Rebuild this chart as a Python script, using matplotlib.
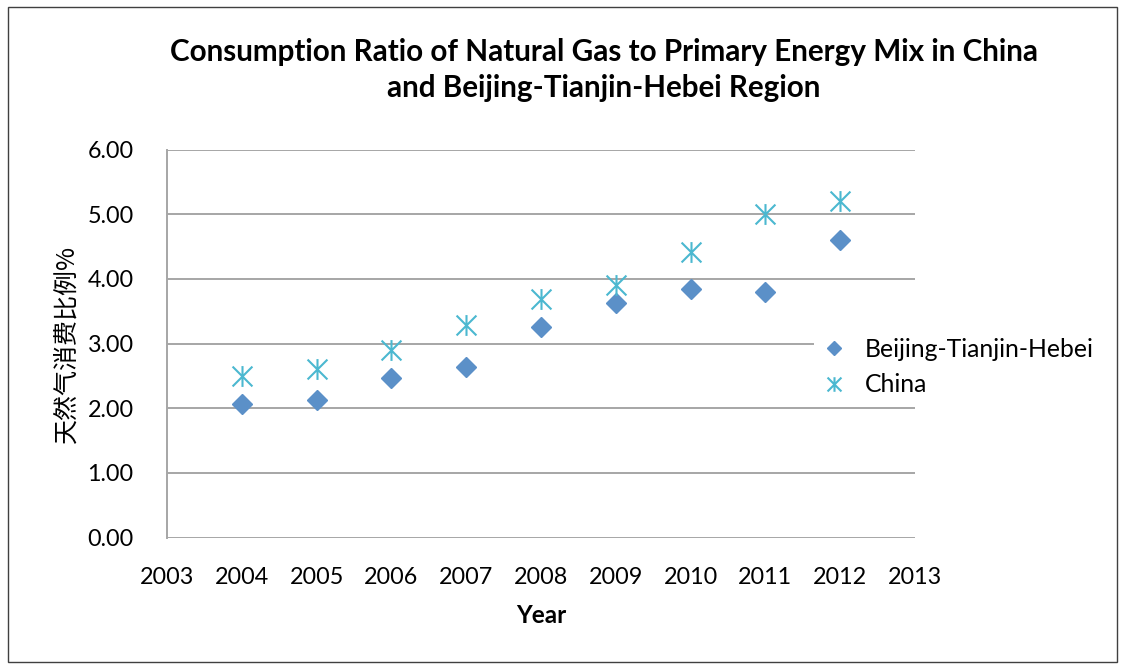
import matplotlib
matplotlib.use("Agg")
import matplotlib.pyplot as plt
from matplotlib.path import Path
from matplotlib.patches import Rectangle

years = [2004, 2005, 2006, 2007, 2008, 2009, 2010, 2011, 2012]
bth = [2.06, 2.13, 2.46, 2.63, 3.25, 3.62, 3.84, 3.79, 4.60]
china = [2.50, 2.61, 2.90, 3.29, 3.69, 3.90, 4.41, 5.00, 5.20]
x_ticks = list(range(2003, 2014))
y_ticks = [0, 1, 2, 3, 4, 5, 6]
title = "Consumption Ratio of Natural Gas to Primary Energy Mix in China\nand Beijing-Tianjin-Hebei Region"
series_names = ["Beijing-Tianjin-Hebei", "China"]

FONT = ["Lato", "DejaVu Sans"]
CJK = ["Noto Sans CJK SC", "DejaVu Sans"]
plt.rcParams['font.family'] = FONT

fig = plt.figure(figsize=(11.23, 6.65), dpi=100)
ax = fig.add_axes([167/1123, 1 - 537.5/665, (915-167)/1123, (537.5-149.5)/665])

# outer border
fig.patches.append(Rectangle((8/1123, 1 - 662/665), (1117-8)/1123, (662-7)/665,
                             transform=fig.transFigure, fill=False,
                             edgecolor="#404040", linewidth=1.0))

star = Path([(-1, -1), (1, 1), (-1, 1), (1, -1), (0, -1.05), (0, 1.05)],
            [Path.MOVETO, Path.LINETO, Path.MOVETO, Path.LINETO, Path.MOVETO, Path.LINETO])

ax.plot(years, bth, linestyle="none", marker="D", markersize=10.5,
        color="#5B90C8", markeredgecolor="#5B90C8", label=series_names[0], zorder=3)
ax.plot(years, china, linestyle="none", marker=star, markersize=15,
        markeredgewidth=1.5, color="#4BB8D0", label=series_names[1], zorder=3)

ax.set_xlim(2003, 2013)
ax.set_ylim(0, 6)
ax.set_xticks(x_ticks)
ax.set_xticklabels([str(v) for v in x_ticks])
ax.set_yticks(y_ticks)
ax.set_yticklabels([f"{v:.2f}" for v in y_ticks])
ax.tick_params(axis="both", length=0, labelsize=16.8, colors="black")
ax.tick_params(axis="x", pad=21)
ax.tick_params(axis="y", pad=24)
ax.grid(axis="y", color="#A6A6A6", linewidth=1.4)
ax.set_axisbelow(True)
for s in ["top", "right", "bottom"]:
    ax.spines[s].set_visible(False)
ax.spines["left"].set_color("#A6A6A6")
ax.spines["left"].set_linewidth(1.4)

ax.set_xlabel("Year", fontsize=17.5, fontweight="bold", labelpad=12)
ax.set_ylabel("天然气消费比例%", fontsize=18, family=CJK, labelpad=6)

fig.text(604/1123, 1 - 70/665, title, ha="center", va="center",
         fontsize=21.3, fontweight="bold", linespacing=1.38)

leg = ax.legend(loc="center left", bbox_to_anchor=(802/1123, 1 - 367/665),
                bbox_transform=fig.transFigure, markerscale=0.7,
                frameon=True, fontsize=17.8, handlelength=1.0, handletextpad=0.75,
                borderpad=0.3, labelspacing=0.5)
frame = leg.get_frame()
frame.set_facecolor("white")
frame.set_edgecolor("none")
frame.set_alpha(1)

fig.savefig("out.png", dpi=100)
